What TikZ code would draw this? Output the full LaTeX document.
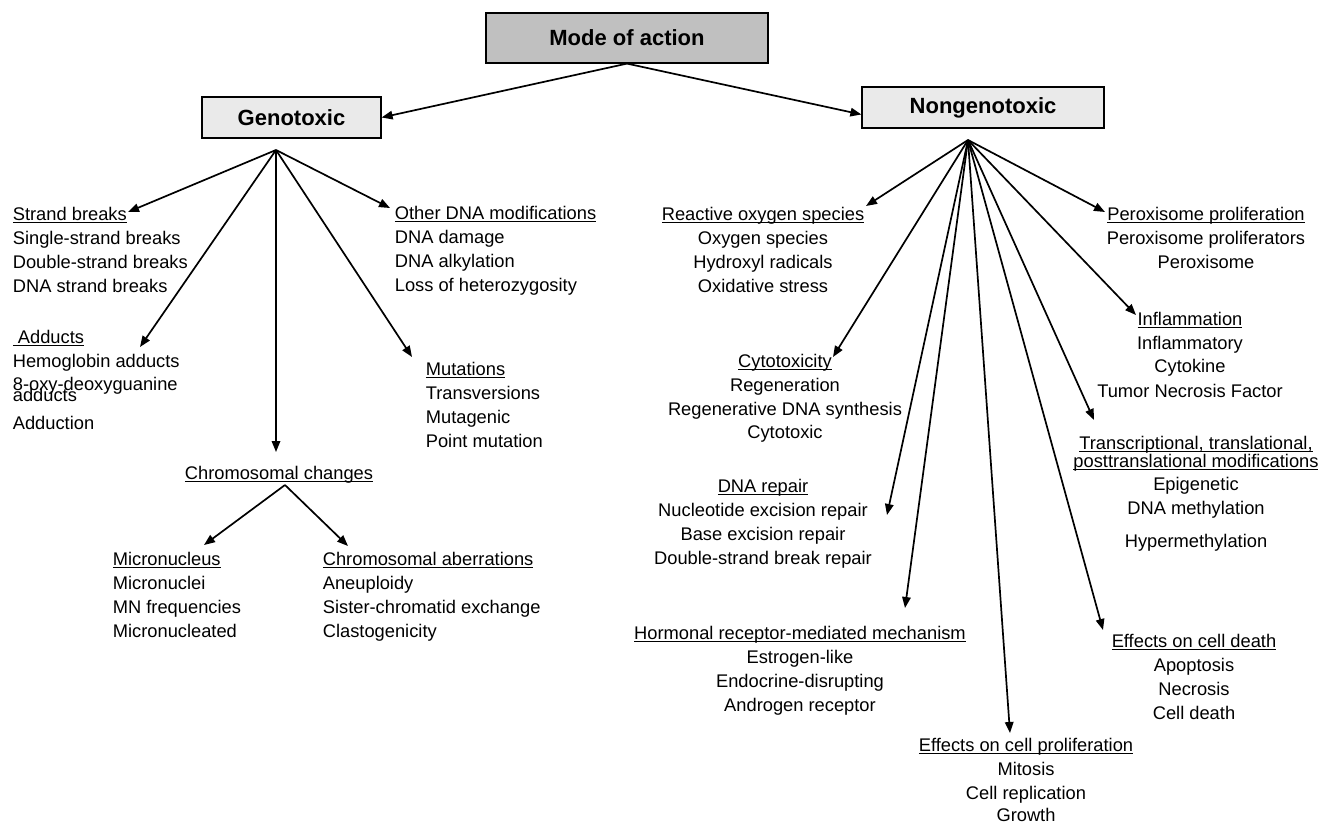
\documentclass[tikz,border=0pt]{standalone}
\usepackage{fontspec}
\setmainfont{Liberation Sans}
\usetikzlibrary{arrows.meta}
\usetikzlibrary{positioning}
\definecolor{modegray}{RGB}{192,192,192}
\definecolor{boxgray}{RGB}{234,234,234}
\newcommand\hd[1]{\underline{\smash{#1}}}
\newcommand\grpfont{\fontsize{18.3}{24}\selectfont\lineskiplimit -50pt\relax}
\tikzset{
    topbox/.style={
           rectangle,
           draw=black, line width=1.2pt,
           font=\fontsize{22}{26}\selectfont\bfseries,
           text centered,
           },
    group/.style={
           inner sep=0pt,
           yshift=-14pt,
           font=\grpfont,
           },
    lgroup/.style={group, anchor=north west, align=left},
    cgroup/.style={group, anchor=north, align=center},
}

\begin{document}
\begin{tikzpicture}[->,>={Triangle[length=11pt,width=8.5pt]},line width=1.7pt,x=1pt,y=-1pt]
   \useasboundingbox (0,0) rectangle (1318,827);

   % the three boxes at the top
   \node[topbox,fill=modegray,minimum width=282pt,minimum height=50pt] (MODE) at (627,38) {Mode of action};
   \node[topbox,fill=boxgray,minimum width=179pt,minimum height=41pt] (GENO) at (291.5,117.5) {Genotoxic};
   \node[topbox,fill=boxgray,minimum width=242pt,minimum height=41pt] (NONGENO) at (983,107.5) {Nongenotoxic};

   % genotoxic groups, left aligned
   \node[lgroup] (STRAND) at (12,206)
   {\hd{Strand breaks}\\Single-strand breaks\\Double-strand breaks\\DNA strand breaks};
   \node[lgroup] (ADDUCTS) at (12,329)
   {\hd{\ Adducts}\\Hemoglobin adducts\\[-1pt]8-oxy-deoxyguanine\\[-13pt]adducts\\[4pt]Adduction};
   \node[lgroup] (OTHERDNA) at (394,205)
   {\hd{Other DNA modifications}\\DNA damage\\DNA alkylation\\Loss of heterozygosity};
   \node[lgroup] (MUTATIONS) at (425,361)
   {\hd{Mutations}\\Transversions\\Mutagenic\\Point mutation};
   \node[cgroup] (CHROM) at (279,465) {\hd{Chromosomal changes}};
   \node[lgroup] (MICRO) at (112,551)
   {\hd{Micronucleus}\\Micronuclei\\MN frequencies\\Micronucleated};
   \node[lgroup] (ABERR) at (322,551)
   {\hd{Chromosomal aberrations}\\Aneuploidy\\Sister-chromatid exchange\\Clastogenicity};

   % nongenotoxic groups, centered
   \node[cgroup] (ROS) at (763,206)
   {\hd{Reactive oxygen species}\\Oxygen species\\Hydroxyl radicals\\Oxidative stress};
   \node[cgroup] (PEROX) at (1206,206)
   {\hd{Peroxisome proliferation}\\Peroxisome proliferators\\Peroxisome};
   \node[cgroup] (CYTO) at (785,353)
   {\hd{Cytotoxicity}\\Regeneration\\Regenerative DNA synthesis\\[-1pt]Cytotoxic};
   \node[cgroup] (INFLAM) at (1190,311)
   {\hd{Inflammation}\\Inflammatory\\[-1pt]Cytokine\\[1pt]Tumor Necrosis Factor};
   \node[cgroup] (TRANSCR) at (1196,435)
   {\hd{Transcriptional, translational,}\\[-6pt]\hd{posttranslational modifications}\\[-1pt]Epigenetic\\DNA methylation\\[9pt]Hypermethylation};
   \node[cgroup] (REPAIR) at (763,478)
   {\hd{DNA repair}\\Nucleotide excision repair\\Base excision repair\\Double-strand break repair};
   \node[cgroup] (HORMON) at (800,625)
   {\hd{Hormonal receptor-mediated mechanism}\\Estrogen-like\\Endocrine-disrupting\\Androgen receptor};
   \node[cgroup] (DEATH) at (1194,633)
   {\hd{Effects on cell death}\\Apoptosis\\Necrosis\\Cell death};
   \node[cgroup] (PROLIF) at (1026,737)
   {\hd{Effects on cell proliferation}\\Mitosis\\Cell replication\\[-2pt]Growth};

   % fan points and arrow ends
   \coordinate (GFAN) at (276,150);
   \coordinate (NFAN) at (968,140);
   \coordinate (CFAN) at (285,485);
   \coordinate (STRANDtip) at (128,212);
   \coordinate (ADDUCTStip) at (140,347);
   \coordinate (CHROMtip) at (276,452);
   \coordinate (MUTATIONStip) at (412,357);
   \coordinate (OTHERDNAtip) at (390,208);
   \coordinate (MICROtip) at (204,545);
   \coordinate (ABERRtip) at (348,546);
   \coordinate (ROStip) at (866,206);
   \coordinate (PEROXtip) at (1105,212);
   \coordinate (CYTOtip) at (833,357);
   \coordinate (INFLAMtip) at (1136,315);
   \coordinate (TRANSCRtip) at (1094,420);
   \coordinate (REPAIRtip) at (887,515);
   \coordinate (HORMONtip) at (905,608);
   \coordinate (PROLIFtip) at (1010,733);
   \coordinate (DEATHtip) at (1103,630);

   \path
   (MODE.south) edge (GENO.east)
   (MODE.south) edge ([yshift=-7pt]NONGENO.west);

   \path (GFAN) edge (STRANDtip) edge (ADDUCTStip) edge (CHROMtip)
     edge (MUTATIONStip) edge (OTHERDNAtip);
   \path (CFAN) edge (MICROtip) edge (ABERRtip);
   \path (NFAN) edge (ROStip) edge (PEROXtip) edge (CYTOtip) edge (INFLAMtip)
     edge (TRANSCRtip) edge (REPAIRtip) edge (HORMONtip) edge (PROLIFtip)
     edge (DEATHtip);

\end{tikzpicture}
\end{document}
